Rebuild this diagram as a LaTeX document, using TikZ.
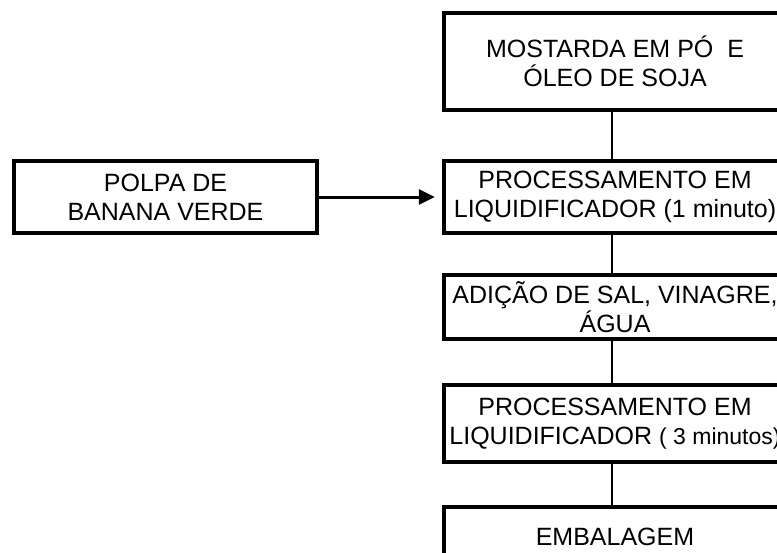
\documentclass[tikz,border=0pt]{standalone}
\usepackage{fontspec}
\setmainfont{Liberation Sans}
\usetikzlibrary{arrows.meta}
\begin{document}
\begin{tikzpicture}[x=1pt,y=-1pt,
    caixa/.style={draw,line width=4.5pt,inner sep=0pt,align=center,minimum width=342pt,font=\fontsize{25}{29}\selectfont},
    liga/.style={line width=1.5pt},
    seta/.style={line width=3pt,-{Triangle[length=16pt,width=15pt]},shorten >=7pt}]
    \def\xc{615} \def\dx{-3pt}
    \useasboundingbox (0,0) rectangle (777,552);
    \clip (0,0) rectangle (777,552);
    \node[caixa,minimum height=97pt] (mostarda) at (\xc,61.5) {MOSTARDA EM PÓ \ E\\ÓLEO DE SOJA};
    \node[caixa,minimum height=72pt] (proc1) at (\xc,197) {PROCESSAMENTO EM\\LIQUIDIFICADOR (1 minuto)};
    \node[caixa,minimum height=64pt] (adicao) at (\xc,307) {ADIÇÃO DE SAL, VINAGRE,\\ÁGUA};
    \node[caixa,minimum height=77pt] (proc3) at (\xc,423.5) {PROCESSAMENTO EM\\LIQUIDIFICADOR {\fontsize{23}{29}\selectfont( 3 minutos)}};
    \node[caixa,minimum height=59pt] (embalagem) at (\xc,536.5) {EMBALAGEM};
    \node[caixa,minimum width=303pt,minimum height=72pt] (polpa) at (165.5,197) {POLPA DE\\BANANA VERDE};
    \draw[seta] (polpa.east) -- (proc1.west);
    \draw[liga] ([xshift=\dx]mostarda.south) -- ([xshift=\dx]proc1.north);
    \draw[liga] ([xshift=\dx]proc1.south) -- ([xshift=\dx]adicao.north);
    \draw[liga] ([xshift=\dx]adicao.south) -- ([xshift=\dx]proc3.north);
    \draw[liga] ([xshift=\dx]proc3.south) -- ([xshift=\dx]embalagem.north);
\end{tikzpicture}
\end{document}
